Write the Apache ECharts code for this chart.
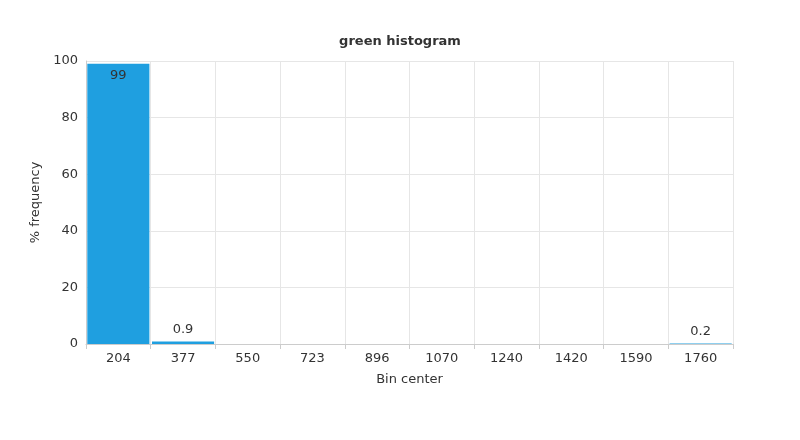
<!DOCTYPE html>
<html><head><meta charset="utf-8">
<script src="https://cdn.jsdelivr.net/npm/echarts@6/dist/echarts.min.js"></script>
<style>html,body{margin:0;padding:0;background:#fff}#c{width:800px;height:440px}</style>
</head><body><div id="c"></div>
<script>
const categories = ['204','377','550','723','896','1070','1240','1420','1590','1760'];
const values = [99, 0.9, 0, 0, 0, 0, 0, 0, 0, 0.2];
const labelsShown = ['99','0.9','','','','','','','','0.2'];
const chart = echarts.init(document.getElementById('c'));
const font = 'DejaVu Sans';
chart.setOption({
  animation:false,
  textStyle:{fontFamily:font},
  title:{text:'green histogram',left:'center',top:30,textStyle:{fontSize:13,fontWeight:'bold',color:'#333',fontFamily:font}},
  grid:{left:86,right:67,top:61,bottom:96},
  xAxis:{type:'category',data:categories,name:'Bin center',nameLocation:'middle',nameGap:29,
    nameTextStyle:{fontSize:13,color:'#333'},
    axisLine:{lineStyle:{color:'#ccc'}},axisTick:{show:true,lineStyle:{color:'#ccc'}},
    axisLabel:{color:'#333',fontSize:13},
    splitLine:{show:true,lineStyle:{color:'#e6e6e6'}}},
  yAxis:{type:'value',min:0,max:100,interval:20,name:'% frequency',nameLocation:'middle',nameGap:40,
    nameTextStyle:{fontSize:13,color:'#333'},
    axisLine:{show:true,lineStyle:{color:'#ccc'}},axisLabel:{color:'#333',fontSize:13},
    splitLine:{lineStyle:{color:'#e6e6e6'}}},
  series:[{type:'bar',barCategoryGap:'4%',itemStyle:{color:'#1f9fe0'},
    data:values.map((v,i)=>({value:v,label:{show:labelsShown[i]!=='',formatter:labelsShown[i],
      position:v>50?'insideTop':'top',color:'#333',fontSize:13}}))}]
});
</script></body></html>
